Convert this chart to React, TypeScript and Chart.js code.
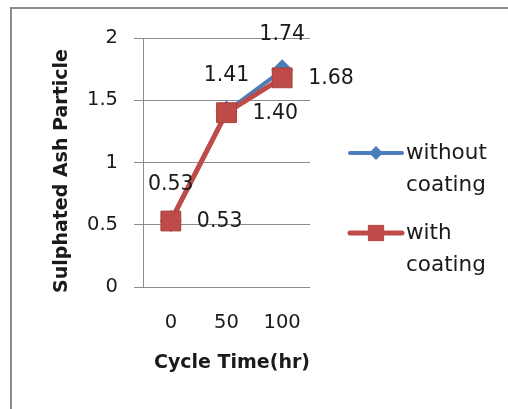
import React, { useEffect, useRef } from "react";
import { Chart, registerables } from "chart.js";

Chart.register(...registerables);

const categories = ["0", "50", "100"];
const withoutCoating = [0.53, 1.41, 1.74];
const withCoating = [0.53, 1.4, 1.68];
const yTickLabels = ["0", "0.5", "1", "1.5", "2"];
const seriesNames = [["without", "coating"], ["with", "coating"]];
const yTitle = "Sulphated Ash Particle";
const xTitle = "Cycle Time(hr)";

const FONT = "'DejaVu Sans', sans-serif";
const BLUE = "#4a7ebb";
const RED = "#be4b48";
const TEXT = "#1a1a1a";

const decorPlugin = {
  id: "decor",
  beforeDraw(chart: any) {
    const ctx = chart.ctx;
    ctx.save();
    ctx.fillStyle = "#ffffff";
    ctx.fillRect(0, 0, chart.width, chart.height);
    ctx.strokeStyle = "#8c8c8c";
    ctx.lineWidth = 2;
    ctx.beginPath();
    ctx.moveTo(11, chart.height);
    ctx.lineTo(11, 8);
    ctx.lineTo(chart.width, 8);
    ctx.stroke();
    ctx.restore();
  },
  afterDraw(chart: any) {
    const ctx = chart.ctx;
    ctx.save();
    ctx.fillStyle = TEXT;
    ctx.textAlign = "center";
    ctx.textBaseline = "middle";
    ctx.font = `bold 19px ${FONT}`;
    ctx.fillText(xTitle, 232, 363);
    ctx.save();
    ctx.translate(62, 171);
    ctx.rotate(-Math.PI / 2);
    ctx.font = `bold 19px ${FONT}`;
    ctx.fillText(yTitle, 0, 0);
    ctx.restore();

    // data labels
    ctx.font = `20.5px ${FONT}`;
    chart.data.datasets.forEach((ds: any, di: number) => {
      const meta = chart.getDatasetMeta(di);
      meta.data.forEach((pt: any, i: number) => {
        const v = ds.data[i].toFixed(2);
        if (di === 0) {
          ctx.textAlign = "center";
          ctx.fillText(v, pt.x, pt.y - 36);
        } else {
          ctx.textAlign = "left";
          ctx.fillText(v, pt.x + 26, pt.y + 1);
        }
      });
    });

    // legend
    const items = [
      { y: 153, color: BLUE, lw: 4, style: "rectRot", r: 7 },
      { y: 233, color: RED, lw: 5, style: "rect", r: 11.5 },
    ];
    items.forEach((it, k) => {
      ctx.strokeStyle = it.color;
      ctx.lineWidth = it.lw;
      ctx.lineCap = "round";
      ctx.beginPath();
      ctx.moveTo(350, it.y);
      ctx.lineTo(402, it.y);
      ctx.stroke();
      ctx.fillStyle = it.color;
      ctx.beginPath();
      if (it.style === "rectRot") {
        ctx.moveTo(376, it.y - it.r);
        ctx.lineTo(376 + it.r, it.y);
        ctx.lineTo(376, it.y + it.r);
        ctx.lineTo(376 - it.r, it.y);
        ctx.closePath();
      } else {
        const s = it.r * Math.SQRT1_2;
        ctx.rect(376 - s, it.y - s, 2 * s, 2 * s);
      }
      ctx.fill();
      ctx.fillStyle = TEXT;
      ctx.font = `21.5px ${FONT}`;
      ctx.textAlign = "left";
      ctx.textBaseline = "middle";
      seriesNames[k].forEach((line, j) => {
        ctx.fillText(line, 406, it.y + j * 32);
      });
    });
    ctx.restore();
  },
};

export default function App() {
  const ref = useRef<HTMLCanvasElement>(null);
  useEffect(() => {
    const chart = new Chart(ref.current!, {
      type: "line",
      data: {
        labels: categories,
        datasets: [
          {
            label: "without coating",
            data: withoutCoating,
            borderColor: BLUE,
            backgroundColor: BLUE,
            borderWidth: 4,
            pointStyle: "rectRot",
            pointRadius: 11,
            pointBorderWidth: 0,
            tension: 0,
            order: 2,
          },
          {
            label: "with coating",
            data: withCoating,
            borderColor: RED,
            backgroundColor: RED,
            borderWidth: 5,
            pointStyle: "rect",
            pointRadius: 14,
            pointBorderColor: "#a8403d",
            pointBorderWidth: 1,
            tension: 0,
            order: 1,
          },
        ],
      },
      options: {
        animation: false,
        responsive: false,
        layout: { padding: { top: 38, right: 198, left: 0, bottom: 0 } },
        plugins: { legend: { display: false }, tooltip: { enabled: false } },
        scales: {
          x: {
            offset: true,
            grid: { display: false },
            border: { display: false },
            ticks: { color: TEXT, font: { family: FONT, size: 19.5 }, padding: 16 },
            afterFit: (s: any) => {
              s.height = 122;
            },
          },
          y: {
            min: 0,
            max: 2,
            ticks: {
              stepSize: 0.5,
              color: TEXT,
              font: { family: FONT, size: 19.5 },
              padding: 16,
              callback: (_v: any, i: number) => yTickLabels[i],
            },
            grid: { color: "#8c8c8c", tickLength: 9, lineWidth: 1 },
            border: { color: "#8c8c8c", width: 1 },
            afterFit: (s: any) => {
              s.width = 143;
            },
          },
        },
      },
      plugins: [decorPlugin],
    });
    return () => chart.destroy();
  }, []);
  return (
    <div style={{ position: "absolute", left: 0, top: 0, width: 508, height: 409 }}>
      <canvas ref={ref} width={508} height={409} style={{ width: 508, height: 409 }} />
    </div>
  );
}
